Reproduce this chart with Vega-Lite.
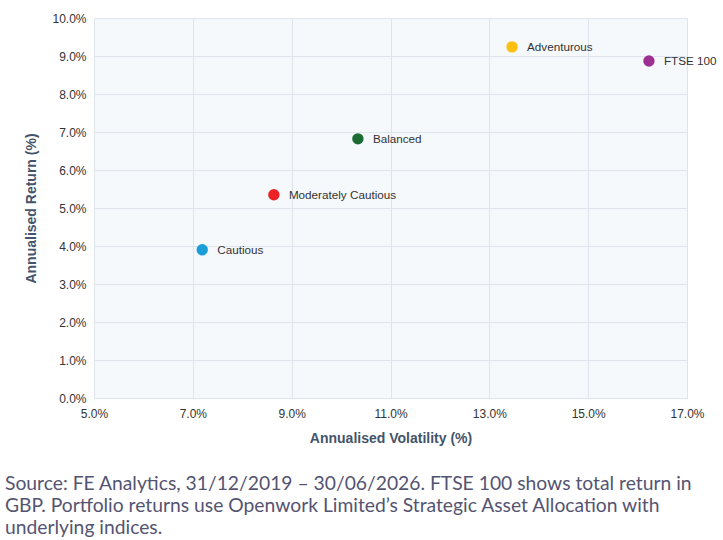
{
  "$schema": "https://vega.github.io/schema/vega-lite/v6.json",
  "autosize": {"type": "none"},
  "width": 593,
  "height": 380,
  "padding": {"left": 94, "top": 18, "right": 36, "bottom": 142},
  "background": "white",
  "data": {
    "values": [
      {"name": "Cautious", "volatility": 7.19, "return": 3.9},
      {"name": "Moderately Cautious", "volatility": 8.64, "return": 5.35},
      {"name": "Balanced", "volatility": 10.34, "return": 6.82},
      {"name": "Adventurous", "volatility": 13.46, "return": 9.24},
      {"name": "FTSE 100", "volatility": 16.23, "return": 8.87}
    ]
  },
  "title": {
    "text": [
      "Source: FE Analytics, 31/12/2019 – 30/06/2026. FTSE 100 shows total return in",
      "GBP. Portfolio returns use Openwork Limited’s Strategic Asset Allocation with",
      "underlying indices."
    ],
    "orient": "bottom",
    "anchor": "start",
    "frame": "group",
    "dx": -89,
    "offset": 30,
    "font": "Lato",
    "fontSize": 19.3,
    "fontWeight": "normal",
    "color": "#545472",
    "lineHeight": 22,
    "baseline": "top"
  },
  "encoding": {
    "x": {
      "field": "volatility",
      "type": "quantitative",
      "scale": {"domain": [5, 17], "nice": false, "zero": false},
      "axis": {
        "values": [5, 7, 9, 11, 13, 15, 17],
        "labelExpr": "format(datum.value, '.1f') + '%'",
        "labelFlush": false,
        "labelPadding": 10,
        "title": "Annualised Volatility (%)",
        "titlePadding": 12
      }
    },
    "y": {
      "field": "return",
      "type": "quantitative",
      "scale": {"domain": [0, 10], "nice": false},
      "axis": {
        "values": [0, 1, 2, 3, 4, 5, 6, 7, 8, 9, 10],
        "labelExpr": "format(datum.value, '.1f') + '%'",
        "labelFlush": false,
        "title": "Annualised Return (%)",
        "titlePadding": 13
      }
    },
    "color": {
      "field": "name",
      "type": "nominal",
      "scale": {
        "domain": ["Cautious", "Moderately Cautious", "Balanced", "Adventurous", "FTSE 100"],
        "range": ["#1b9dd9", "#ec2227", "#1b6b35", "#fdbf12", "#9d2f93"]
      },
      "legend": null
    }
  },
  "layer": [
    {
      "mark": {"type": "circle", "size": 130, "opacity": 1}
    },
    {
      "mark": {
        "type": "text",
        "align": "left",
        "baseline": "middle",
        "dx": 15,
        "font": "Liberation Sans",
        "fontSize": 11.7,
        "color": "#333333"
      },
      "encoding": {
        "text": {"field": "name"},
        "color": {"value": "#333333"}
      }
    }
  ],
  "config": {
    "view": {"fill": "#f6f9fc", "stroke": "#dfe5ec"},
    "axis": {
      "domain": false,
      "ticks": false,
      "grid": true,
      "gridColor": "#dfe5ec",
      "gridWidth": 1,
      "labelFont": "Liberation Sans",
      "labelFontSize": 12,
      "labelColor": "#333333",
      "labelPadding": 8,
      "titleFont": "Liberation Sans",
      "titleFontSize": 14,
      "titleFontWeight": "bold",
      "titleColor": "#44546a"
    }
  }
}
